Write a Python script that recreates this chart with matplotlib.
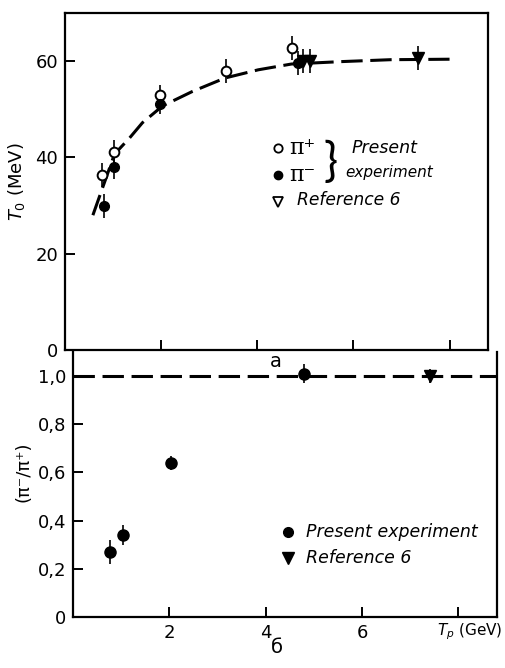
import matplotlib
matplotlib.use("Agg")
import matplotlib.pyplot as plt

# top panel (a): T0 vs Tp
pip_x = [0.76, 1.02, 1.98, 3.35, 4.73]
pip_y = [36.3, 41.2, 53.0, 58.0, 62.7]
pip_err = [2.5, 2.5, 2.0, 2.5, 2.5]
pim_x = [0.82, 1.02, 1.98, 4.85]
pim_y = [29.9, 38.1, 51.0, 59.6]
pim_err = [2.5, 2.5, 2.0, 2.5]
ref_x = [4.95, 5.1, 7.35]
ref_y = [60.0, 60.0, 60.6]
ref_err = [2.5, 2.5, 2.5]
fit_x = [0.58, 1.03, 1.34, 1.61, 2.03, 2.65, 3.33, 4.02, 4.71, 5.74, 6.77, 8.0]
fit_y = [28.0, 40.7, 44.0, 47.2, 50.7, 53.7, 56.5, 58.2, 59.4, 59.9, 60.3, 60.4]
top_yticks = [0, 20, 40, 60]
top_yticklabels = ["0", "20", "40", "60"]

# bottom panel (б): pi-/pi+ ratio
rat_x = [0.77, 1.03, 2.03, 4.8]
rat_y = [0.27, 0.34, 0.64, 1.01]
rat_err = [0.05, 0.04, 0.03, 0.04]
rref_x = [7.4]
rref_y = [1.0]
rref_err = [0.03]
unity_x = [0.0, 8.8]
unity_y = [1.0, 1.0]
bot_yticks = [0, 0.2, 0.4, 0.6, 0.8, 1.0]
bot_yticklabels = ["0", "0,2", "0,4", "0,6", "0,8", "1,0"]
xticks = [2, 4, 6, 8]
xticklabels = ["2", "4", "6", ""]

plt.rcParams['font.family'] = ['DejaVu Sans']
fig = plt.figure(figsize=(5.06, 6.68), dpi=100)

W, H = 506, 668
ax1 = fig.add_axes([65 / W, 1 - 350 / H, 423 / W, 337 / H])
ax2 = fig.add_axes([73 / W, 1 - 617 / H, 424 / W, 265 / H])

for ax in (ax1, ax2):
    for s in ax.spines.values():
        s.set_linewidth(1.6)
    ax.tick_params(direction='in', length=7, width=1.4, labelsize=13,
                   top=False, right=False, pad=5)
    ax.set_xlim(0, 8.8)
    ax.set_xticks(xticks)

# --- top panel
ax1.set_ylim(0, 70)
ax1.set_yticks(top_yticks)
ax1.set_yticklabels(top_yticklabels)
ax1.set_xticklabels([])
ax1.plot(fit_x, fit_y, color='black', lw=2.2, dashes=(7, 2.5))
ax1.errorbar(pip_x, pip_y, yerr=pip_err, fmt='o', mfc='white', mec='black',
             ecolor='black', ms=7, mew=1.4, elinewidth=1.2)
ax1.errorbar(pim_x, pim_y, yerr=pim_err, fmt='o', color='black', ms=7,
             elinewidth=1.2)
ax1.errorbar(ref_x, ref_y, yerr=ref_err, fmt='v', color='black', ms=8,
             elinewidth=1.2)
ax1.set_ylabel(r"$T_0$ (MeV)", fontsize=13)
ax1.yaxis.set_label_coords(-0.09, 0.5)

# legend for top panel
ax1.plot([0.504], [0.599], 'o', mfc='white', mec='black', ms=6, mew=1.3,
         transform=ax1.transAxes)
ax1.plot([0.504], [0.519], 'o', color='black', ms=6, transform=ax1.transAxes)
ax1.plot([0.504], [0.439], 'v', mfc='white', mec='black', ms=7, mew=1.3,
         transform=ax1.transAxes)
ax1.text(0.53, 0.599, "π⁺", fontsize=16, va='center', family='DejaVu Serif',
         transform=ax1.transAxes)
ax1.text(0.53, 0.519, "π⁻", fontsize=16, va='center', family='DejaVu Serif',
         transform=ax1.transAxes)
ax1.text(0.612, 0.558, "}", fontsize=34, va='center', family='Lato',
         fontweight='normal', transform=ax1.transAxes)
ax1.text(0.678, 0.600, "Present", fontsize=12.5, style='italic', va='center',
         transform=ax1.transAxes)
ax1.text(0.662, 0.528, "experiment", fontsize=11, style='italic', va='center',
         transform=ax1.transAxes)
ax1.text(0.548, 0.445, "Reference 6", fontsize=12.3, style='italic', va='center',
         transform=ax1.transAxes)

# --- bottom panel
ax2.set_ylim(0, 1.1)
ax2.set_yticks(bot_yticks)
ax2.set_yticklabels(bot_yticklabels)
ax2.set_xticklabels(xticklabels)
ax2.spines['top'].set_visible(False)
ax2.plot(unity_x, unity_y, color='black', lw=2.2, dashes=(7, 2.5))
ax2.errorbar(rat_x, rat_y, yerr=rat_err, fmt='o', color='black', ms=8,
             elinewidth=1.2)
ax2.errorbar(rref_x, rref_y, yerr=rref_err, fmt='v', color='black', ms=8,
             elinewidth=1.2)
ax2.set_ylabel("(π⁻/π⁺)", fontsize=13)
ax2.yaxis.set_label_coords(-0.095, 0.55)

ax2.plot([0.507], [0.32], 'o', color='black', ms=7, transform=ax2.transAxes)
ax2.plot([0.507], [0.223], 'v', color='black', ms=8, transform=ax2.transAxes)
ax2.text(0.55, 0.32, "Present experiment", fontsize=12.5, style='italic',
         va='center', transform=ax2.transAxes)
ax2.text(0.55, 0.223, "Reference 6", fontsize=12.5, style='italic',
         va='center', transform=ax2.transAxes)

ax2.text(0.479, 0.965, "а", fontsize=14, ha='center', va='center',
         transform=ax2.transAxes)
fig.text(503 / W, 1 - 632 / H, r"$T_p$ (GeV)", fontsize=11, ha='right',
         va='center')
fig.text(0.547, 0.03, "б", fontsize=14, ha='center', va='center')

fig.savefig("out.png", dpi=100)
